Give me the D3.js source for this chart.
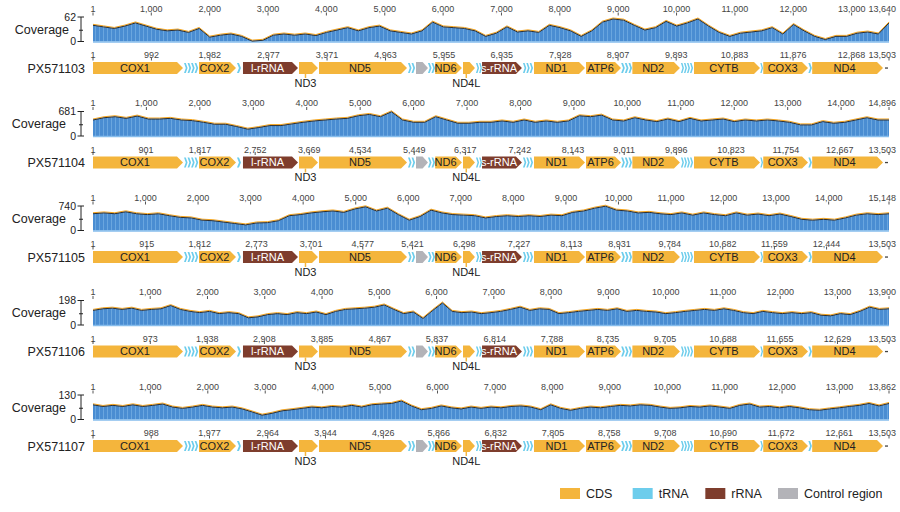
<!DOCTYPE html>
<html>
<head>
<meta charset="utf-8">
<script src="https://cdn.jsdelivr.net/npm/d3@7"></script>
<style>
  body { margin: 0; background: #fff; }
  text { font-family: Arial, "Liberation Sans", sans-serif; }
</style>
</head>
<body>
<svg id="chart" width="900" height="512"></svg>
<script>
// ---- data ----
const accessions = ["PX571103", "PX571104", "PX571105", "PX571106", "PX571107"];
const genomeLengths = [13640, 14896, 15148, 13900, 13862];
const coverageMax = [62, 681, 740, 198, 130];

// coverage profiles, evenly spaced along each genome
const cov1 = [41,37,33,39,47,39,31,27,29,23,33,11,16,19,13,1,3,16,19,16,19,15,23,29,35,27,35,39,27,23,
  19,27,49,37,35,33,27,13,21,37,24,27,23,41,35,27,13,27,49,57,54,41,29,35,51,39,47,57,39,23,
  13,21,24,27,35,19,43,27,13,5,13,13,21,24,19,47];
const cov2 = [445,508,536,490,554,472,472,490,445,427,381,327,327,263,190,236,290,290,336,381,418,445,472,490,563,
  599,536,672,445,381,381,536,445,354,354,381,381,418,381,445,381,418,381,418,563,536,581,445,418,508,
  445,400,472,400,490,418,445,472,400,445,418,445,418,381,309,309,400,354,381,445,508,445,445];
const cov3 = [506,531,506,565,506,480,506,447,396,380,312,295,253,211,169,228,237,295,447,480,531,565,590,548,649,
  716,590,674,480,312,422,615,531,480,464,447,380,422,447,422,447,422,464,447,548,590,674,733,615,590,
  531,548,506,480,531,464,531,480,447,531,464,497,447,497,422,337,312,337,312,380,464,506,480,506];
const cov4 = [118,131,136,126,136,118,126,131,157,126,110,100,110,92,100,92,58,66,84,92,84,100,92,105,84,
  110,126,131,136,144,162,126,92,105,53,118,178,110,100,105,92,100,110,126,144,118,131,126,92,100,
  110,118,126,118,131,110,118,110,105,92,100,110,118,126,118,131,118,100,92,110,100,92,100,92,100,
  79,74,92,84,110,144,126,131];
const cov5 = [78,69,75,69,78,69,75,82,66,59,66,75,66,62,66,56,40,23,33,46,52,59,66,62,69,66,75,66,78,82,
  85,98,72,52,59,72,62,56,66,59,66,62,69,72,66,52,78,59,49,59,66,62,69,75,72,78,75,66,59,62,
  69,66,72,66,59,75,82,66,69,62,69,62,52,49,56,62,69,75,85,72,85];
const coverage = [cov1, cov2, cov3, cov4, cov5];

// annotation track ticks (bp)
const geneTicks = [
  [1,992,1982,2977,3971,4963,5955,6935,7928,8907,9893,10883,11876,12868,13503],
  [1,901,1817,2752,3669,4534,5449,6317,7242,8143,9011,9896,10823,11754,12667,13503],
  [1,915,1812,2773,3701,4577,5421,6298,7227,8113,8931,9784,10682,11559,12444,13503],
  [1,973,1938,2908,3885,4867,5837,6814,7788,8735,9705,10688,11655,12629,13503],
  [1,988,1977,2964,3944,4926,5866,6832,7805,8758,9708,10690,11672,12661,13503]
];
const annotLength = 13503;

// features of the annotation track
const geneNames  = ["COX1","","","","","COX2","","l-rRNA","ND3","ND5","","","","","","ND6","ND4L","","","s-rRNA",
  "","","","ND1","ATP6","","","","ND2","","","","","CYTB","","COX3","","ND4",""];
const geneTypes  = ["CDS","tRNA","tRNA","tRNA","tRNA","CDS","tRNA","rRNA","CDS","CDS","tRNA","tRNA","CR","tRNA","tRNA","CDS","CDS","tRNA","tRNA","rRNA",
  "tRNA","tRNA","tRNA","CDS","CDS","tRNA","tRNA","tRNA","CDS","tRNA","tRNA","tRNA","tRNA","CDS","tRNA","CDS","tRNA","CDS","other"];
const geneStarts = [1,1545,1605,1665,1725,1799,2443,2545,3495,3834,5344,5404,5480,5683,5743,5805,6277,6497,6550,6600,
  7294,7351,7408,7481,8363,8960,9022,9084,9150,9974,10025,10076,10127,10195,11320,11370,12135,12200,13435];
const geneEnds   = [1528,1605,1665,1725,1785,2427,2511,3478,3817,5327,5404,5464,5683,5743,5803,6259,6480,6550,6600,7277,
  7351,7408,7465,8346,8957,9022,9084,9144,9957,10025,10076,10127,10180,11315,11366,12129,12195,13401,13486];
const labelBelow = ["ND3", "ND4L"];

const legendKeys = ["CDS", "tRNA", "rRNA", "Control region"];
const typeColor = { CDS: "#f4b53c", tRNA: "#6dcdec", rRNA: "#7e3d2d", CR: "#b3b3b8", other: "#444" };
const legendTypes = ["CDS", "tRNA", "rRNA", "CR"];

// ---- layout ----
const svg = d3.select("#chart");
const X0 = 93, X1 = 889, PANEL_H = 94.5;
const fmt = d3.format(",");

const defs = svg.append("defs");
const pat = defs.append("pattern").attr("id", "bars")
  .attr("patternUnits", "userSpaceOnUse").attr("width", 4).attr("height", 10);
pat.append("rect").attr("width", 4).attr("height", 10).attr("fill", "#4a8dd2");
pat.append("rect").attr("x", 3).attr("width", 1).attr("height", 10).attr("fill", "#6aa6df");

const geneX = d3.scaleLinear().domain([1, annotLength]).range([X0, X1]);

function drawTicks(g, scale, values, labelY, t0, t1) {
  values.forEach(v => {
    const px = scale(v);
    g.append("line").attr("x1", px).attr("x2", px).attr("y1", t0).attr("y2", t1)
      .attr("stroke", "#555").attr("stroke-width", 1);
    const t = g.append("text").attr("x", px).attr("y", labelY).attr("dy", "0.35em")
      .attr("text-anchor", "middle").attr("font-size", 9).attr("fill", "#444")
      .text(fmt(v));
    const w = t.node().getComputedTextLength();
    if (px + w / 2 > 896) t.attr("x", 896 - w / 2);
  });
}

accessions.forEach((acc, i) => {
  const g = svg.append("g").attr("transform", `translate(0,${i * PANEL_H})`);
  const N = genomeLengths[i];
  const x = d3.scaleLinear().domain([1, N]).range([X0, X1]);
  const yTop = 17, yZero = 41.5;
  const y = d3.scaleLinear().domain([0, coverageMax[i]]).range([yZero, yTop]);
  const vals = coverage[i];
  const pos = d3.scaleLinear().domain([0, vals.length - 1]).range([1, N]);

  // coverage ticks
  const tv = [1].concat(d3.range(1000, N, 1000).filter(v => x(N) - x(v) > 24), [N]);
  drawTicks(g, x, tv, 8.5, 12.5, 15.5);

  // coverage area
  const area = d3.area().x((d, j) => x(pos(j))).y0(yZero).y1(d => y(d));
  const line = d3.line().x((d, j) => x(pos(j))).y(d => y(d));
  g.append("path").datum(vals).attr("d", area).attr("fill", "url(#bars)");
  g.append("line").attr("x1", X0).attr("x2", X1).attr("y1", yZero + 0.5).attr("y2", yZero + 0.5)
    .attr("stroke", "#86bdec").attr("stroke-width", 1.5);
  g.append("path").datum(vals).attr("d", line).attr("fill", "none")
    .attr("stroke", "#f4a41c").attr("stroke-width", 1).attr("transform", "translate(0,-1)");
  g.append("path").datum(vals).attr("d", line).attr("fill", "none")
    .attr("stroke", "#2e2e2e").attr("stroke-width", 1);

  // y axis
  const ax = 81;
  g.append("line").attr("x1", ax).attr("x2", ax).attr("y1", yTop).attr("y2", yZero).attr("stroke", "#222");
  [yTop, yZero].forEach(yy => g.append("line").attr("x1", ax - 3.5).attr("x2", ax + 3)
    .attr("y1", yy).attr("y2", yy).attr("stroke", "#222"));
  g.append("line").attr("x1", ax - 2).attr("x2", ax + 2)
    .attr("y1", (yTop + yZero) / 2 + 1).attr("y2", (yTop + yZero) / 2 + 1).attr("stroke", "#222");
  g.append("text").attr("x", 76).attr("y", y(coverageMax[i])).attr("dy", "0.35em")
    .attr("text-anchor", "end").attr("font-size", 10.5).attr("fill", "#222").text(coverageMax[i]);
  g.append("text").attr("x", 76).attr("y", y(0)).attr("dy", "0.35em")
    .attr("text-anchor", "end").attr("font-size", 10.5).attr("fill", "#222").text(0);
  const digits = String(coverageMax[i]).length;
  g.append("text").attr("x", 75 - 3 * digits).attr("y", (yTop + yZero) / 2).attr("dy", "0.35em")
    .attr("text-anchor", "end").attr("font-size", 12.5).attr("fill", "#222").text("Coverage");

  // annotation track
  drawTicks(g, geneX, geneTicks[i], 55, 57.5, 60.5);
  g.append("text").attr("x", 85).attr("y", 68.5).attr("dy", "0.35em")
    .attr("text-anchor", "end").attr("font-size", 12.5).attr("fill", "#222").text(acc);

  const top = 62, bot = 74, mid = 68;
  geneNames.forEach((name, k) => {
    const a = geneX(geneStarts[k]), b = geneX(geneEnds[k]);
    const type = geneTypes[k];
    if (type === "tRNA") {
      const w = b - a;
      const pts = [[a, top + 1], [a + w * 0.5, top + 1], [b, mid], [a + w * 0.5, bot - 1], [a, bot - 1], [a + w * 0.5, mid]];
      g.append("polygon").attr("points", pts.join(" ")).attr("fill", typeColor.tRNA);
      return;
    }
    if (type === "other") {
      g.append("rect").attr("x", a).attr("y", mid - 0.6).attr("width", b - a).attr("height", 1.3)
        .attr("fill", typeColor.other);
      return;
    }
    const tip = Math.min(6, (b - a) * 0.45);
    const pts = [[a, top], [b - tip, top], [b, mid], [b - tip, bot], [a, bot]];
    g.append("polygon").attr("points", pts.join(" ")).attr("fill", typeColor[type]);
    if (!name) return;
    const cx = (a + b - tip) / 2;
    if (labelBelow.includes(name)) {
      g.append("line").attr("x1", cx).attr("x2", cx).attr("y1", bot).attr("y2", 78)
        .attr("stroke", typeColor.CDS).attr("stroke-width", 1.5);
      g.append("text").attr("x", cx).attr("y", 83).attr("dy", "0.35em").attr("text-anchor", "middle")
        .attr("font-size", 11).attr("fill", "#222").text(name);
    } else {
      g.append("text").attr("x", cx).attr("y", mid).attr("dy", "0.36em").attr("text-anchor", "middle")
        .attr("font-size", 11).attr("fill", type === "rRNA" ? "#fff" : "#222").text(name);
    }
  });
});

// legend
const legendX = d3.scalePoint().domain(legendKeys).range([560, 778]);
const lg = svg.append("g");
legendKeys.forEach((k, j) => {
  const lx = legendX(k);
  lg.append("rect").attr("x", lx).attr("y", 488).attr("width", 20).attr("height", 11)
    .attr("fill", typeColor[legendTypes[j]]);
  lg.append("text").attr("x", lx + 26).attr("y", 493.5).attr("dy", "0.35em")
    .attr("font-size", 12.5).attr("fill", "#222").text(k);
});
</script>
</body>
</html>
